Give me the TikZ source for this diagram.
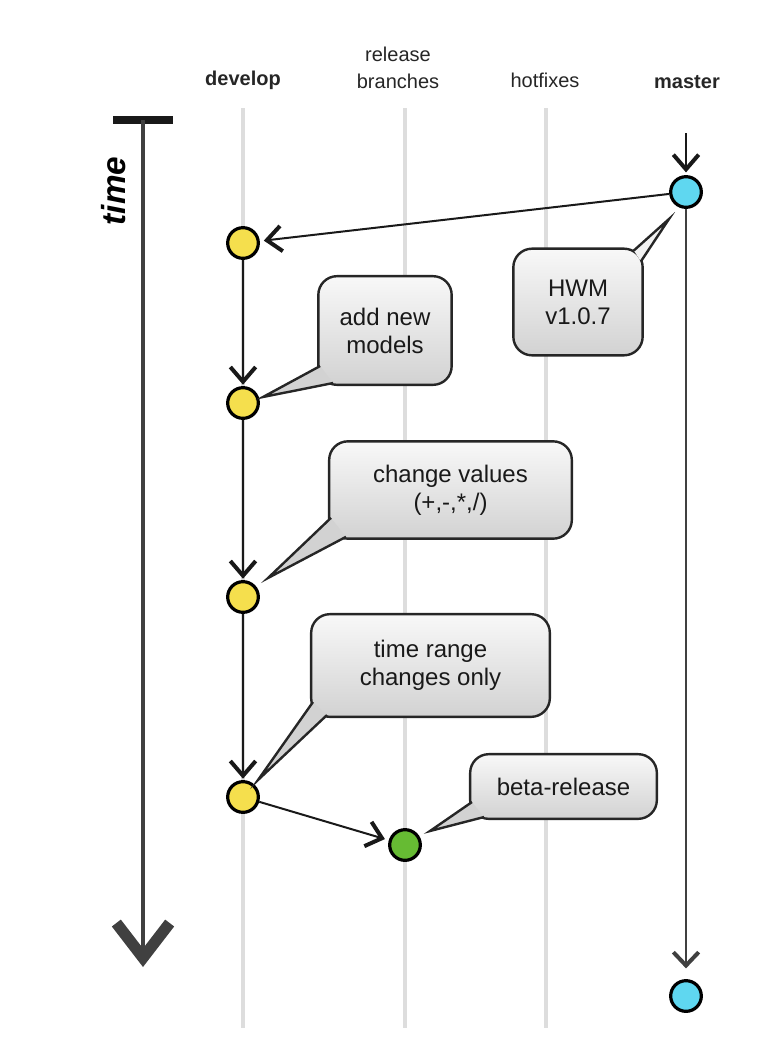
\documentclass[tikz,border=0pt]{standalone}
\usepackage{fontspec}
\setmainfont{Liberation Sans}
\usetikzlibrary{arrows.meta,calc}
\definecolor{devyellow}{HTML}{F5DF4D}
\definecolor{mastercyan}{HTML}{5FD7F0}
\definecolor{relgreen}{HTML}{66BB33}
\definecolor{lanegray}{HTML}{DDDDDD}
\definecolor{boxtop}{HTML}{F8F8F8}
\definecolor{boxbot}{HTML}{D2D2D2}
\begin{document}
\begin{tikzpicture}[x=0.75pt,y=-0.75pt,
  lane/.style={draw=lanegray,line width=3pt},
  header/.style={font=\fontsize{15}{20}\selectfont,text=black!85,align=center},
  commit/.style={circle,draw=black,line width=2.4pt,minimum size=23pt,inner sep=0pt},
  devc/.style={commit,fill=devyellow},
  mastc/.style={commit,fill=mastercyan},
  relc/.style={commit,fill=relgreen},
  flow/.style={draw=black!90,line width=1.5pt,-{Straight Barb[length=11pt,width=19pt,line width=3pt]}},
  bubble/.style={rectangle,rounded corners=14pt,draw=black!85,line width=1.8pt,top color=boxtop,bottom color=boxbot,font=\fontsize{18}{21}\selectfont,align=center,inner sep=0pt,text=black!90},
  ptr/.style={draw=black!85,line width=1.8pt,line join=miter},
]
\useasboundingbox (0,0) rectangle (784,1056);

% lanes
\draw[lane] (243,108) -- (243,1028);
\draw[lane] (405,108) -- (405,1028);
\draw[lane] (546,108) -- (546,1028);

% headers
\node[header,font=\fontsize{15}{20}\selectfont\bfseries] (hdev) at (243,80) {develop};
\node[header] (hrel) at (398,68) {release\\branches};
\node[header] (hhot) at (545,80) {hotfixes};
\node[header,font=\fontsize{15}{20}\selectfont\bfseries] (hmas) at (687,82) {master};

% time arrow
\coordinate (barL) at (113,120);
\coordinate (barR) at (173,120);
\coordinate (tTop) at (143,120);
\coordinate (tTip) at (143,967);
\draw[black!90,line width=6pt] (barL) -- (barR);
\draw[black!75,line width=2.8pt,-{Straight Barb[length=26pt,width=40pt,line width=8.5pt]}] (tTop) -- (tTip);
\node[rotate=90,font=\fontsize{25}{28}\selectfont\bfseries\itshape] (tlabel) at (114,191) {time};

% commits
\node[mastc] (m1) at (686,192) {};
\node[mastc] (m2) at (686,996) {};
\node[devc] (d1) at (243,243) {};
\node[devc] (d2) at (243,403) {};
\node[devc] (d3) at (243,597) {};
\node[devc] (d4) at (243,797) {};
\node[relc] (g1) at (405,845) {};

% connectors
\coordinate (mtop) at (686,133);
\draw[flow,shorten >=2pt] (mtop) -- (m1);
\draw[flow,shorten >=3pt] (m1) -- (d1);
\draw[flow,shorten >=1pt] (d1) -- (d2);
\draw[flow,shorten >=1pt] (d2) -- (d3);
\draw[flow,shorten >=1pt] (d3) -- (d4);
\draw[flow,shorten >=3pt] (d4) -- (g1);
\draw[draw=black!75,line width=1.2pt,shorten >=8pt,-{Straight Barb[length=10pt,width=19pt,line width=3pt]}] (m1) -- (m2);

% callouts
\node[bubble,minimum width=97pt,minimum height=80pt] (c0) at (578,302) {HWM\\v1.0.7};
\node[bubble,minimum width=100pt,minimum height=81.5pt] (c1) at (385,330.5) {add new\\models};
\node[bubble,minimum width=182pt,minimum height=73pt] (c2) at (450.5,490) {change values\\(+,-,*,/)};
\node[bubble,minimum width=179pt,minimum height=77pt] (c3) at (430.5,665.5) {time range\\changes only};
\node[bubble,minimum width=140pt,minimum height=48.5pt] (c4) at (563.5,786.5) {beta-release};

% pointers
\coordinate (t0) at (669,219);
\coordinate (t1) at (263,397);
\coordinate (t2) at (268,578);
\coordinate (t3) at (258,780);
\coordinate (t4) at (430,831);

\fill[boxtop!85!boxbot] ($(c0.north east)+(-10,3)$) -- (t0) -- ($(c0.north east)+(-3,14)$) -- cycle;
\draw[ptr] ($(c0.north east)+(-10,3)$) -- (t0) -- ($(c0.north east)+(-3,14)$);

\fill[boxbot] ($(c1.south west)+(3,-20)$) -- (t1) -- ($(c1.south west)+(16,-3)$) -- cycle;
\draw[ptr] ($(c1.south west)+(3,-20)$) -- (t1) -- ($(c1.south west)+(16,-3)$);

\fill[boxbot] ($(c2.south west)+(3,-22)$) -- (t2) -- ($(c2.south west)+(18,-3)$) -- cycle;
\draw[ptr] ($(c2.south west)+(3,-22)$) -- (t2) -- ($(c2.south west)+(18,-3)$);

\fill[boxbot] ($(c3.south west)+(3,-16)$) -- (t3) -- ($(c3.south west)+(17,-3)$) -- cycle;
\draw[ptr] ($(c3.south west)+(3,-16)$) -- (t3) -- ($(c3.south west)+(17,-3)$);

\fill[boxbot] ($(c4.south west)+(3,-18)$) -- (t4) -- ($(c4.south west)+(15,-3)$) -- cycle;
\draw[ptr] ($(c4.south west)+(3,-18)$) -- (t4) -- ($(c4.south west)+(15,-3)$);
\end{tikzpicture}
\end{document}
